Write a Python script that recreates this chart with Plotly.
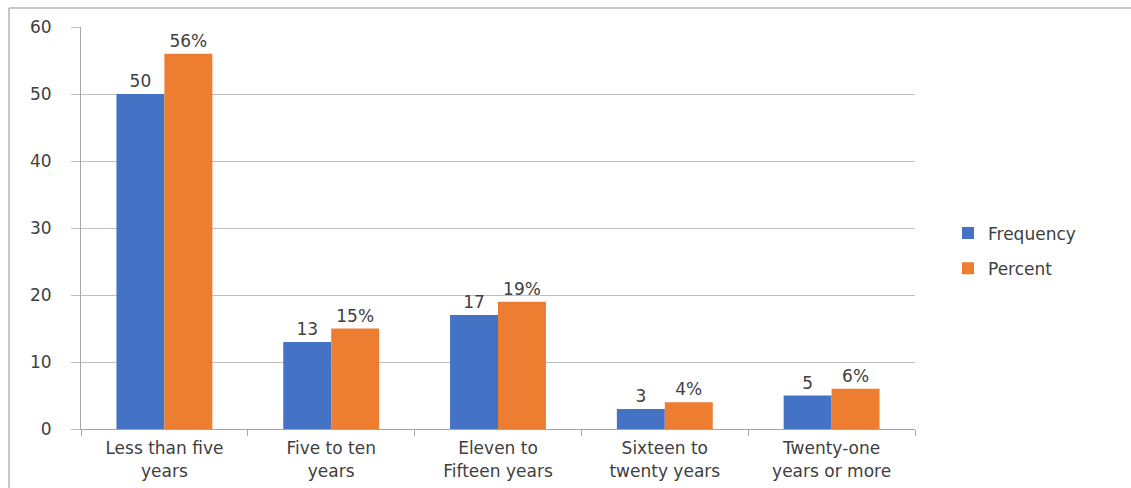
import plotly.graph_objects as go

categories = [
    "Less than five<br>years",
    "Five to ten<br>years",
    "Eleven to<br>Fifteen years",
    "Sixteen to<br>twenty years",
    "Twenty-one<br>years or more",
]
frequency = [50, 13, 17, 3, 5]
percent = [56, 15, 19, 4, 6]
y_ticks = [0, 10, 20, 30, 40, 50, 60]

W, H = 1131, 488
L, R, T, B = 81, 216, 27, 59
pw, ph = W - L - R, H - T - B

FAMILY = "DejaVu Sans, Verdana, sans-serif"
font = dict(family=FAMILY, size=17, color="#404040")

fig = go.Figure()
fig.add_trace(go.Bar(
    x=categories, y=frequency, name="Frequency", legendgroup="f",
    marker=dict(color="#4472C4", line=dict(width=0)),
    text=[str(v) for v in frequency], textposition="outside",
    textfont=font, cliponaxis=False,
))
fig.add_trace(go.Bar(
    x=categories, y=percent, name="Percent", legendgroup="p",
    marker=dict(color="#ED7D31", line=dict(width=0)),
    text=[f"{v}%" for v in percent], textposition="outside",
    textfont=font, cliponaxis=False,
))

# outer frame of the chart area (top and left edges)
fx0 = (9 - L) / pw
fy0 = 1 + (T - 8) / ph
fig.add_shape(type="line", xref="paper", yref="paper",
              x0=fx0, x1=(W - L) / pw, y0=fy0, y1=fy0,
              line=dict(color="#b4b4b4", width=1.5))
fig.add_shape(type="line", xref="paper", yref="paper",
              x0=fx0, x1=fx0, y0=fy0, y1=-(B) / ph,
              line=dict(color="#b4b4b4", width=1.5))

fig.update_layout(
    width=W, height=H,
    margin=dict(l=L, r=R, t=T, b=B, autoexpand=False),
    paper_bgcolor="white", plot_bgcolor="white",
    barmode="group", bargap=0.425, bargroupgap=0,
    font=font,
    showlegend=True,
    legend=dict(x=(948 - L) / pw, y=(429 - 251) / ph, xanchor="left", yanchor="middle",
                font=dict(family=FAMILY, size=17, color="#404040"),
                itemsizing="constant", tracegroupgap=10, itemwidth=30),
    xaxis=dict(
        showline=True, linecolor="#a6a6a6", linewidth=1,
        ticks="outside", tickson="boundaries", ticklen=6, tickcolor="#a6a6a6",
        tickfont=font, showgrid=False, ticklabelstandoff=4,
    ),
    yaxis=dict(
        range=[0, 60], tickvals=y_ticks, ticktext=[str(v) for v in y_ticks],
        showline=True, linecolor="#a6a6a6", linewidth=1,
        ticks="outside", ticklen=9, tickcolor="#bfbfbf",
        showgrid=True, gridcolor="#bfbfbf", gridwidth=1,
        zeroline=False, tickfont=font, ticklabelstandoff=16,
    ),
)

fig.write_html("out.html")
